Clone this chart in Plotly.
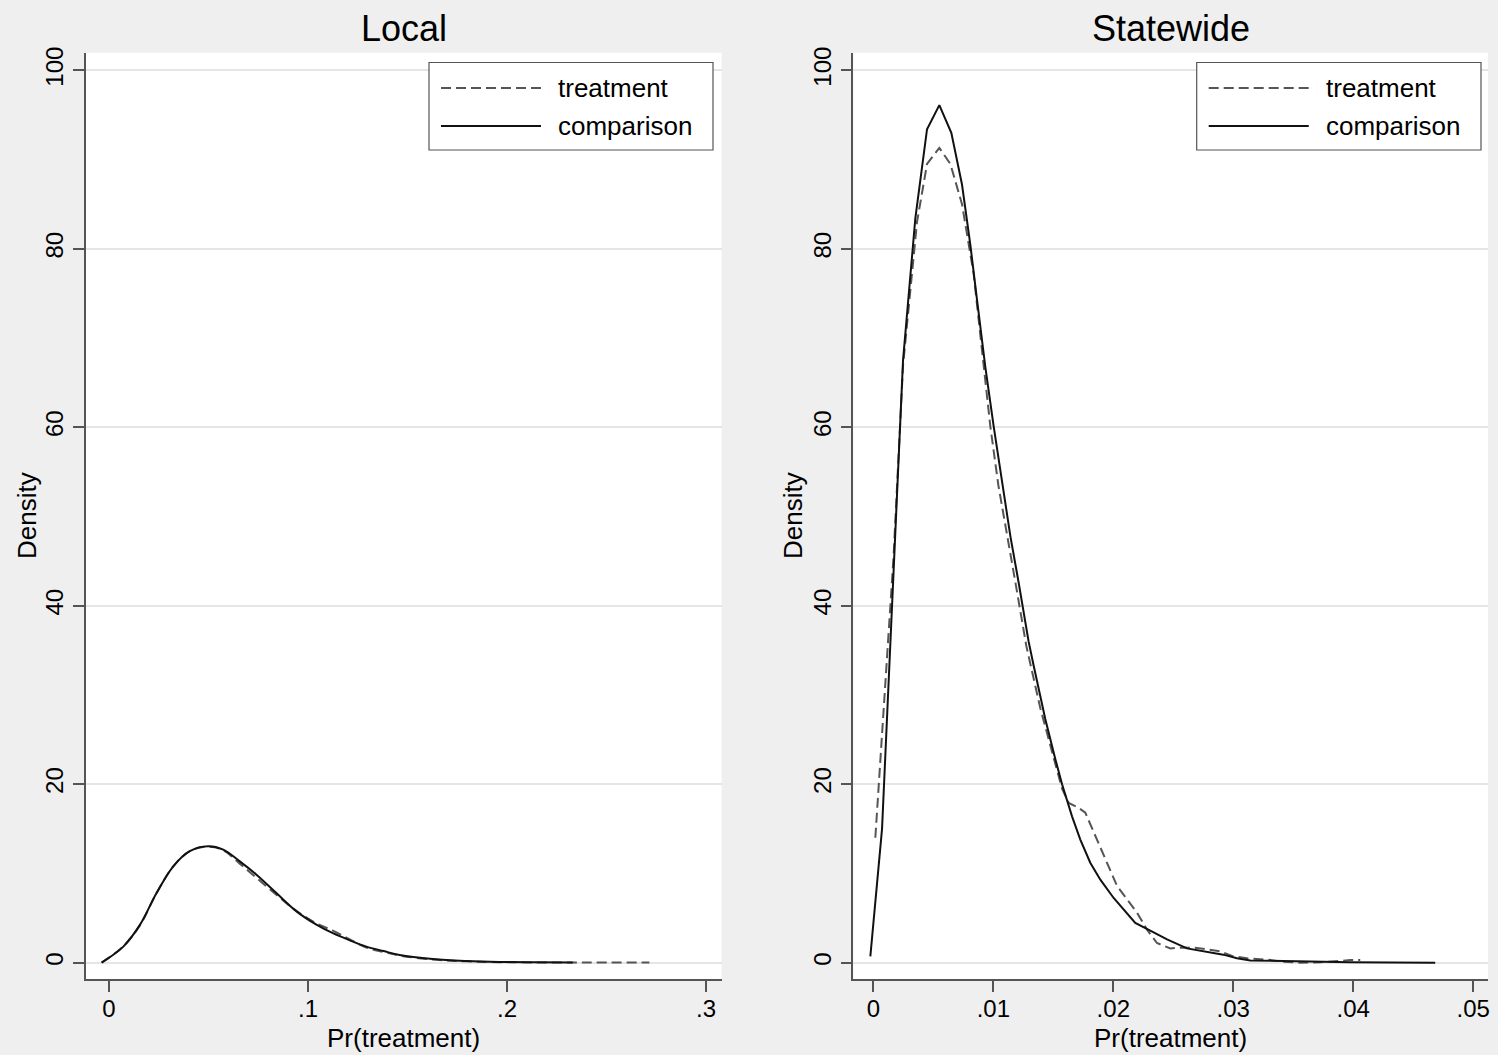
import plotly.graph_objects as go

W, H = 1498, 1055

# ---------------- data ----------------
panel_titles = ["Local", "Statewide"]
series_names = ["treatment", "comparison"]

local_comp_x = [-0.0037, 0.0072, 0.0156, 0.0239, 0.0323, 0.0406, 0.0498, 0.0574, 0.0657,
                0.0741, 0.0841, 0.0942, 0.1042, 0.1125, 0.1210, 0.1293, 0.1380, 0.1460,
                0.1627, 0.1795, 0.1960, 0.2140, 0.2330]
local_comp_y = [0.0, 1.8, 4.26, 7.8, 10.8, 12.5, 13.05, 12.67, 11.35,
                9.86, 7.8, 5.75, 4.26, 3.3, 2.5, 1.8, 1.3, 0.86,
                0.41, 0.19, 0.08, 0.04, 0.02]

local_treat_x = [-0.0037, 0.0072, 0.0156, 0.0239, 0.0323, 0.0406, 0.0498, 0.0574, 0.0657,
                 0.0741, 0.0841, 0.0942, 0.1042, 0.1125, 0.1210, 0.1293, 0.1380, 0.1460,
                 0.1627, 0.1795, 0.1960, 0.2140, 0.2330, 0.2500, 0.2715]
local_treat_y = [0.0, 1.85, 4.2, 7.8, 10.8, 12.5, 13.0, 12.6, 11.1,
                 9.5, 7.6, 5.8, 4.4, 3.6, 2.6, 1.7, 1.2, 0.8,
                 0.35, 0.15, 0.06, 0.03, 0.02, 0.01, 0.01]

state_comp_x = [-0.00025, 0.000725, 0.00156, 0.002475, 0.0035, 0.004475, 0.0055, 0.0065,
                0.00739, 0.00808, 0.00864, 0.00933, 0.01003, 0.01073, 0.01142, 0.01211,
                0.01294, 0.01336, 0.01433, 0.01517, 0.01573, 0.01656, 0.01725, 0.01808,
                0.01892, 0.02003, 0.02086, 0.02183, 0.02308, 0.02448, 0.02614, 0.02808,
                0.02917, 0.03031, 0.03142, 0.03417, 0.03698, 0.03975, 0.0431, 0.04683]
state_comp_y = [0.7, 15.0, 40.0, 67.5, 83.4, 93.4, 96.1, 93.0,
                87.2, 80.5, 74.3, 66.8, 60.1, 53.8, 47.8, 42.6,
                36.0, 33.3, 27.3, 22.8, 20.0, 16.4, 13.8, 11.2,
                9.3, 7.25, 5.9, 4.45, 3.6, 2.6, 1.6, 1.1,
                0.9, 0.5, 0.25, 0.2, 0.1, 0.05, 0.03, 0.0]

state_treat_x = [0.000167, 0.001, 0.00169, 0.002475, 0.00364, 0.004475, 0.0055, 0.00642,
                 0.00739, 0.00836, 0.00892, 0.00975, 0.01042, 0.01117, 0.01192, 0.01275,
                 0.01392, 0.01492, 0.01573, 0.01628, 0.01711, 0.01767, 0.01864, 0.01948,
                 0.02031, 0.02114, 0.02198, 0.02281, 0.02364, 0.02475, 0.02586, 0.02698,
                 0.02808, 0.02892, 0.03, 0.03142, 0.03281, 0.03417, 0.03558, 0.03725,
                 0.03892, 0.03975, 0.04058]
state_treat_y = [14.0, 31.4, 45.6, 66.9, 83.0, 89.5, 91.3, 89.5,
                 85.0, 77.2, 70.0, 60.1, 53.5, 47.5, 42.0, 35.5,
                 28.5, 23.5, 19.5, 17.9, 17.35, 16.8, 13.8, 11.2,
                 8.6, 7.1, 5.6, 3.7, 2.2, 1.6, 1.7, 1.65,
                 1.45, 1.27, 0.7, 0.45, 0.34, 0.1, 0.0, 0.05,
                 0.2, 0.3, 0.3]

y_ticks = [0, 20, 40, 60, 80, 100]
local_xticks = [0, 0.1, 0.2, 0.3]
local_xlabels = ["0", ".1", ".2", ".3"]
state_xticks = [0, 0.01, 0.02, 0.03, 0.04, 0.05]
state_xlabels = ["0", ".01", ".02", ".03", ".04", ".05"]

# ---------------- style ----------------
FONT = "Liberation Sans, Arial, Helvetica, sans-serif"
BG = "#EFEFEF"
GRID = "#E5E5E5"
AXC = "#555555"
DASH_COL = "#555555"
SOLID_COL = "#111111"
DASH = "10px,5px"

fig = go.Figure()

def add_pair(tx, ty, cx, cy, xa, ya, shape):
    fig.add_trace(go.Scatter(x=tx, y=ty, mode="lines", name=series_names[0],
                             line=dict(color=DASH_COL, width=2, dash=DASH, shape=shape),
                             xaxis=xa, yaxis=ya, showlegend=False, hoverinfo="skip"))
    fig.add_trace(go.Scatter(x=cx, y=cy, mode="lines", name=series_names[1],
                             line=dict(color=SOLID_COL, width=2, shape=shape),
                             xaxis=xa, yaxis=ya, showlegend=False, hoverinfo="skip"))

add_pair(local_treat_x, local_treat_y, local_comp_x, local_comp_y, "x", "y", "spline")
add_pair(state_treat_x, state_treat_y, state_comp_x, state_comp_y, "x2", "y2", "linear")

def px(v):
    return v / W

def py(v):
    return 1 - v / H

dom1 = [px(85.7), px(721.6)]
dom2 = [px(853.3), px(1488.0)]
ydom = [py(979.0), py(52.7)]

xcommon = dict(showline=True, linecolor=AXC, linewidth=1.5, ticks="outside", ticklen=11,
               tickwidth=1.5, tickcolor=AXC, showgrid=False, zeroline=False, automargin=False,
               ticklabelstandoff=-4,
               tickfont=dict(family=FONT, size=24, color="#000"), mirror=False)
ycommon = dict(showline=True, linecolor=AXC, linewidth=1.5, ticks="outside", ticklen=11,
               tickwidth=1.5, tickcolor=AXC, showgrid=True, gridcolor=GRID, gridwidth=2,
               zeroline=False, automargin=False, tickvals=y_ticks,
               ticktext=[str(t) for t in y_ticks],
               tickangle=-90, tickfont=dict(family=FONT, size=24, color="#000"),
               range=[-1.83, 101.97], domain=ydom)

fig.update_layout(
    template="none",
    width=W, height=H, margin=dict(l=0, r=0, t=0, b=0, pad=0, autoexpand=False),
    paper_bgcolor=BG, plot_bgcolor="white",
    xaxis=dict(domain=dom1, range=[-0.0117, 0.3078], tickvals=local_xticks,
               ticktext=local_xlabels, anchor="y", **xcommon),
    xaxis2=dict(domain=dom2, range=[-0.00167, 0.05123], tickvals=state_xticks,
                ticktext=state_xlabels, anchor="y2", **xcommon),
    yaxis=dict(anchor="x", **ycommon),
    yaxis2=dict(anchor="x2", **ycommon),
    font=dict(family=FONT, color="#000"),
)

annotations = []
shapes = []
panels = [(dom1, 429.0, 713.0, 27.0), (dom2, 1196.7, 1481.0, 793.0)]
for i, (dom, bx0, bx1, dens_x) in enumerate(panels):
    cx = (dom[0] + dom[1]) / 2
    annotations.append(dict(text=panel_titles[i], x=cx, y=py(28), xref="paper", yref="paper",
                            showarrow=False, xanchor="center", yanchor="middle",
                            font=dict(family=FONT, size=36, color="#000")))
    annotations.append(dict(text="Density", x=px(dens_x), y=py(516), xref="paper", yref="paper",
                            showarrow=False, xanchor="center", yanchor="middle", textangle=-90,
                            font=dict(family=FONT, size=26, color="#000")))
    annotations.append(dict(text="Pr(treatment)", x=cx, y=py(1038), xref="paper", yref="paper",
                            showarrow=False, xanchor="center", yanchor="middle",
                            font=dict(family=FONT, size=26, color="#000")))
    # legend box
    shapes.append(dict(type="rect", xref="paper", yref="paper", x0=px(bx0), x1=px(bx1),
                       y0=py(150), y1=py(62.5), line=dict(color=AXC, width=1.2),
                       fillcolor="white", layer="above"))
    lx0 = bx0 + 12
    lx1 = bx0 + 112
    for j, (ly, col, dash) in enumerate([(88, DASH_COL, DASH), (126, SOLID_COL, "solid")]):
        shapes.append(dict(type="line", xref="paper", yref="paper", x0=px(lx0), x1=px(lx1),
                           y0=py(ly), y1=py(ly), line=dict(color=col, width=2, dash=dash),
                           layer="above"))
        annotations.append(dict(text=series_names[j], x=px(bx0 + 127), y=py(ly), xref="paper",
                                yref="paper", showarrow=False, xanchor="left", yanchor="middle",
                                font=dict(family=FONT, size=26, color="#000")))

fig.update_layout(annotations=annotations, shapes=shapes)
fig.write_html("out.html")
